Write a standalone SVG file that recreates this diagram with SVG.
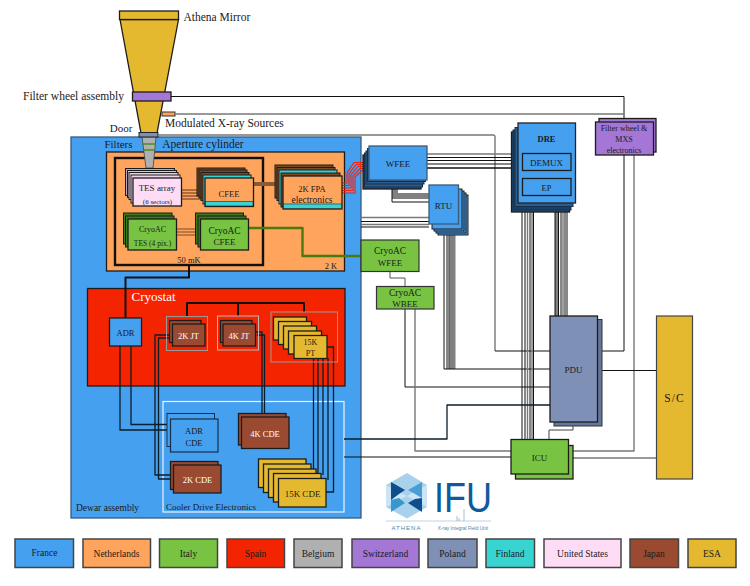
<svg xmlns="http://www.w3.org/2000/svg" width="750" height="586" viewBox="0 0 750 586">
<style>
text{font-family:"Liberation Serif","DejaVu Serif",serif;fill:#1a1a1a;text-anchor:middle}
.s{stroke:#1c1c1c;stroke-width:1.300}
.t{stroke:#1c1c1c;stroke-width:1}
.bl{fill:#46a0f0}.or{fill:#fea45c}.gr{fill:#78c442}.re{fill:#f52400}.gy{fill:#b0b0b0}.pu{fill:#a476d6}.po{fill:#7f90b6}.cy{fill:#38d4d2}.pk{fill:#fedcf6}.br{fill:#9a4a30}.ye{fill:#e5b92f}
.w{fill:none;stroke:#111;stroke-width:1;stroke-linejoin:round}
.c{fill:none;stroke:#0c1c28;stroke-width:1.300;stroke-linejoin:round}
.g{fill:none;stroke:#777;stroke-width:1.400;stroke-linejoin:round}
.k{fill:none;stroke:#111;stroke-width:2;stroke-linejoin:round}
.wt{fill:#fff}
.l{text-anchor:start}
.sans{font-family:"Liberation Sans",sans-serif}
</style>

<g id="mirror">
<path class="ye s" d="M120 19.500H178.500L157 133H141Z"/>
<rect class="ye s" x="119.500" y="11" width="59" height="8.500"/>
<text class="l" x="183.500" y="21" font-size="11.500">Athena Mirror</text>
</g>

<g id="dewar">
<rect class="bl" x="71" y="137" width="290" height="381" stroke="#3a5a78" stroke-width="1.300"/>
<text x="118.500" y="147.500" font-size="11">Filters</text>
<text x="203" y="147.500" font-size="11.500">Aperture cylinder</text>
<text x="107.500" y="511" font-size="9.500">Dewar assembly</text>
</g>

<g id="box-2k">
<rect class="or s" x="106.500" y="152" width="238" height="119"/>
<text x="331" y="269" font-size="8.500">2 K</text>
</g>
<g id="box-50mk">
<rect x="115" y="158" width="148" height="107" fill="none" stroke="#111" stroke-width="2.400"/>
<text x="189" y="263" font-size="8.500">50 mK</text>
</g>

<g id="cryostat">
<rect class="re s" x="87.500" y="288.500" width="257.500" height="97.500"/>
<text x="153.500" y="301" font-size="13" style="fill:#fff">Cryostat</text>
</g>
<g id="cooler-electronics">
<rect fill="none" stroke="#eef4fb" stroke-width="1.200" x="163" y="401.500" width="181" height="110.500"/>
<text x="211" y="510" font-size="9">Cooler Drive Electronics</text>
</g>

<g id="aperture">
<path class="gy" stroke="#444" stroke-width=".8" d="M142 137H156L153 168H146Z"/>
<path d="M142.500 144H155.500M144 150H154.500" stroke="#4f8a1e" stroke-width="1.300"/>
<rect fill="#7f90b6" stroke="#222" x="139" y="132.500" width="19" height="4.500"/>
<text x="121" y="132" font-size="11">Door</text>
</g>

<g id="filter-wheel">
<rect class="pu s" x="132.500" y="92" width="38.500" height="9"/>
<text x="73.500" y="100" font-size="11.500">Filter wheel assembly</text>
</g>
<g id="mxs">
<rect class="or" stroke="#333" x="162" y="112" width="13" height="4"/>
<text class="l" x="165" y="127" font-size="11.500">Modulated X-ray Sources</text>
</g>

<g id="connectors">
<path class="w" d="M171 96.500H624V122M624 155V351H597.500"/>
<path class="g" d="M175 114H624"/>
<path class="g" d="M158 135H493Q495 135 495 137V351"/>
<path class="w" d="M495 351H550"/>
<path class="g" d="M634 155V451H569"/>
<path class="g" d="M427 154H514"/><path class="w" d="M427 157.500H514M427 160.500H514M427 164H514"/><path class="k" style="stroke-width:1.300" d="M427 168H518"/>
<path d="M395 189V196H429" fill="none" stroke="#808080" stroke-width="6"/><path class="w" d="M392 189V202H429"/>
<path class="g" d="M361 217.500H429"/><path class="w" d="M361 221.500H429"/><path class="g" d="M361 224.500H429"/><path class="w" d="M361 227H429"/>
<path d="M452.500 235V369" stroke="#808080" stroke-width="6" fill="none"/>
<path class="w" d="M444 225V369H550M447 225V369M449 225V369"/>
<path class="w" d="M522 210V439M525 210V439"/><path class="g" d="M527.500 210V439"/><path class="w" d="M530 205V439"/><path class="g" d="M532 210V439"/><path class="w" d="M533.500 205V439"/>
<path d="M556.500 212V316" stroke="#808080" stroke-width="3" fill="none"/><path class="w" d="M555 212V316M558.500 212V316M561 212V316"/><path class="g" d="M563 212V316"/><path class="w" d="M565 205V316M567 212V316"/>
<path class="w" style="stroke:#555" d="M390 271V278H405V286"/>
<path class="w" d="M405 309V387H550"/>
<path class="g" d="M415 309V451H511"/>
<path class="c" d="M344 439H447V405H550"/>
<path class="w" d="M344 457H511"/>
<path class="w" d="M597.500 370.500H656.500"/>
<path class="g" d="M573 458H656.500"/>
<path class="w" style="stroke:#444" d="M573 422V430H549V439"/>
<path d="M248 228H302.500V256H362" fill="none" stroke="#4a7a10" stroke-width="2.400" stroke-linejoin="round"/>
<path class="k" d="M189 265V277.500H125.500V318"/>
<path class="k" d="M187 316V303H304V312M238 303V316"/>
<path class="c" d="M120 346V430H170.500M131 346V424.500H170.500"/>
<path class="c" d="M169 335H155V475H170.500M172 338H158.500V479H173.500"/>
<path class="c" d="M255 332H262V414M257 335H264.500V417"/>
<path class="c" d="M313.500 358V475M318 358V480M323 358V475M328 358V480M327 347H333.500V492H326"/>
<path d="M178 190H205M178 193H205M178 196H205M178 199H205" stroke="#5d3518" stroke-width="1.100"/>
<path d="M253 183H276M253 185H276" stroke="#8a5a35" stroke-width="1.800"/>
<path d="M176 229H200M176 232H200M176 235H200" stroke="#7a4a25" stroke-width="1.100"/>
<path fill="none" stroke="#f2200c" stroke-width="1.100" d="M342 183H347V173L354 162.500H368M342 185.500H349V174L356 164.500H368M342 188H351V175L358 166.500H368M342 190.500H353V176L360 168.500H368M342 193H355V177L362 170.500H368"/>
</g>

<g id="tes">
<rect fill="#b5a8c0" class="t" x="125.500" y="168.500" width="49" height="27"/>
<rect fill="#dcc8dc" class="t" x="127.500" y="170.500" width="49" height="27"/>
<rect fill="#e8d0e4" class="t" x="129" y="172.500" width="49" height="27"/>
<rect fill="#f0d4ec" class="t" x="131" y="175" width="49" height="28"/>
<rect class="pk s" x="133" y="178" width="48.500" height="28"/>
<text x="157" y="191" font-size="9">TES array</text>
<text x="157.500" y="204" font-size="7">(6 sectors)</text>
</g>
<g id="cfee">
<rect fill="#7a4a25" class="t" x="197" y="168" width="48" height="28"/>
<rect fill="#7a4a25" class="t" x="199" y="170" width="48" height="28"/>
<rect fill="#7a4a25" class="t" x="201" y="172.500" width="48" height="28"/>
<rect class="cy t" x="203" y="175" width="48" height="29"/>
<rect class="or s" x="205" y="178" width="48.500" height="28.500"/>
<rect class="cy" stroke="#222" stroke-width=".6" x="205.500" y="201.500" width="47.500" height="4.500"/>
<text x="229" y="197" font-size="8.500">CFEE</text>
</g>
<g id="fpa">
<rect fill="#7a4a25" class="t" x="275" y="165" width="58" height="33"/>
<rect fill="#7a4a25" class="t" x="277" y="167.500" width="58" height="33"/>
<rect class="cy t" x="279" y="170" width="58" height="34"/>
<rect fill="#7a4a25" class="t" x="281" y="173" width="59" height="34"/>
<rect class="or s" x="283" y="176" width="59" height="33"/>
<rect class="cy" stroke="#222" stroke-width=".6" x="283.500" y="204" width="58" height="4.500"/>
<text x="312" y="192" font-size="8.500">2K FPA</text>
<text x="312" y="203" font-size="9.500">electronics</text>
</g>
<g id="cryoac-tes">
<rect fill="#3c7a1c" class="t" x="123.500" y="213" width="48.500" height="31"/>
<rect fill="#3c7a1c" class="t" x="125.500" y="216" width="48.500" height="31"/>
<rect class="gr s" x="128" y="219" width="48.500" height="31"/>
<text x="152.500" y="232" font-size="8">CryoAC</text>
<text x="152.500" y="246" font-size="7.500">TES (4 pix.)</text>
</g>
<g id="cryoac-cfee">
<rect fill="#3c7a1c" class="t" x="195.500" y="213" width="48" height="31"/>
<rect fill="#3c7a1c" class="t" x="198" y="216" width="48" height="31"/>
<rect class="gr s" x="200.500" y="219" width="48" height="31"/>
<text x="224.500" y="234" font-size="9.500">CryoAC</text>
<text x="224.500" y="245" font-size="9">CFEE</text>
</g>

<g id="wfee">
<rect fill="#26507e" class="s" x="363" y="155" width="58" height="34"/>
<rect fill="#2a5c90" stroke="#17304a" x="364.500" y="153" width="58" height="34"/>
<rect fill="#2a5c90" stroke="#17304a" x="366" y="151" width="58" height="33"/>
<rect fill="#2a5c90" stroke="#17304a" x="367.500" y="148.500" width="58" height="33"/>
<rect class="bl" stroke="#3c5a78" stroke-width="1.300" x="369" y="146" width="58" height="34"/>
<text x="398" y="167" font-size="9">WFEE</text>
</g>
<g id="rtu">
<rect class="bl t" x="438" y="195" width="30" height="40"/>
<rect class="bl t" x="436" y="193" width="30" height="40"/>
<rect class="bl t" x="434" y="191" width="30" height="40"/>
<rect class="bl t" x="432" y="189" width="30" height="40"/>
<rect class="bl" stroke="#3c5a78" stroke-width="1.300" x="429" y="185" width="29.500" height="39"/>
<text x="443.500" y="209" font-size="9">RTU</text>
</g>
<g id="dre">
<rect fill="#26507e" class="s" x="511.500" y="132" width="58" height="80"/>
<rect fill="#1c3f64" stroke="#17304a" x="513" y="130" width="58" height="80"/>
<rect fill="#2a5c90" stroke="#17304a" x="515" y="127.500" width="58" height="79"/>
<rect class="bl" stroke="#222" stroke-width="1.300" x="518" y="123" width="57.500" height="80"/>
<text x="546.500" y="142" font-size="8.500" font-weight="bold">DRE</text>
<rect class="bl s" x="522.500" y="153.500" width="48.500" height="17"/>
<text x="546.500" y="166" font-size="9">DEMUX</text>
<rect class="bl s" x="522.500" y="178.500" width="48.500" height="17"/>
<text x="546.500" y="191" font-size="8.500">EP</text>
</g>
<g id="fw-electronics">
<rect class="pu s" x="599" y="118.500" width="57" height="33.500"/>
<rect class="pu s" x="595.500" y="122" width="58" height="33"/>
<text x="624" y="131" font-size="8">Filter wheel &amp;</text>
<text x="624" y="142" font-size="8">MXS</text>
<text x="624" y="153" font-size="8">electronics</text>
</g>
<g id="cryoac-wfee">
<rect class="gr" stroke="#333" stroke-width="1.200" x="361" y="240" width="58" height="31.500"/>
<text x="390" y="254" font-size="9.500">CryoAC</text>
<text x="390" y="266" font-size="9">WFEE</text>
</g>
<g id="cryoac-wbee">
<rect class="gr" stroke="#333" stroke-width="1.200" x="376.500" y="286.500" width="57.500" height="22.500"/>
<text x="405" y="296" font-size="9.500">CryoAC</text>
<text x="405" y="307" font-size="9">WBEE</text>
</g>
<g id="pdu">
<rect fill="#63779d" stroke="#333" x="554" y="319.500" width="48" height="106.500"/>
<rect class="po s" x="550" y="316" width="47.500" height="106"/>
<text x="573.500" y="373" font-size="9">PDU</text>
</g>
<g id="sc">
<rect class="ye" stroke="#444" stroke-width="1.200" x="656.500" y="316" width="36" height="163"/>
<text x="674.500" y="402" font-size="11.500" letter-spacing="1">S/C</text>
</g>
<g id="icu">
<rect class="gr s" x="515.500" y="445.500" width="57.500" height="33.500"/>
<rect class="gr s" x="511" y="439.500" width="57.500" height="34.500"/>
<text x="539.500" y="461" font-size="9">ICU</text>
</g>

<g id="adr">
<rect class="bl s" x="109.500" y="318" width="32" height="28"/>
<text x="125.500" y="336" font-size="8.500">ADR</text>
</g>
<g id="jt2">
<rect fill="none" stroke="#999" x="166.500" y="316.500" width="41" height="34"/>
<rect class="br s" x="169.500" y="320.500" width="31.500" height="22"/>
<rect class="br s" x="172.500" y="324" width="32.500" height="22"/>
<text x="188.500" y="339" font-size="8.500" style="fill:#fff">2K JT</text>
</g>
<g id="jt4">
<rect fill="none" stroke="#bbb" x="217.500" y="316" width="41" height="34"/>
<rect class="br s" x="220.500" y="320.500" width="31.500" height="22"/>
<rect class="br s" x="223" y="324" width="32.500" height="22"/>
<text x="239" y="339" font-size="8.500" style="fill:#fff">4K JT</text>
</g>
<g id="pt15">
<rect fill="none" stroke="#999" x="271" y="312" width="66.500" height="50"/>
<rect class="ye s" x="273.500" y="317" width="33" height="23"/>
<rect class="ye s" x="278.500" y="321.500" width="33" height="23"/>
<rect class="ye s" x="283.500" y="326" width="33" height="23"/>
<rect class="ye s" x="288.500" y="331" width="33" height="23"/>
<rect class="ye s" x="294" y="335.500" width="33" height="23"/>
<text x="310.500" y="345" font-size="8">15K</text>
<text x="310.500" y="356" font-size="8">PT</text>
</g>

<g id="adr-cde">
<rect class="bl" stroke="#17304a" x="167" y="413.500" width="47.500" height="33"/>
<rect class="bl" stroke="#17304a" stroke-width="1.200" x="170.500" y="419" width="47.500" height="33"/>
<text x="194" y="434" font-size="8.500">ADR</text>
<text x="194" y="446" font-size="8.500">CDE</text>
</g>
<g id="cde4">
<rect class="br s" x="238.500" y="413.500" width="47.500" height="31.500"/>
<rect class="br s" x="241.500" y="417" width="47.500" height="31.500"/>
<text x="265" y="437" font-size="8.500" style="fill:#fff">4K CDE</text>
</g>
<g id="cde2">
<rect class="br s" x="170.500" y="461.500" width="47.500" height="28"/>
<rect class="br s" x="173.500" y="465" width="47.500" height="28"/>
<text x="197.500" y="483" font-size="8.500" style="fill:#fff">2K CDE</text>
</g>
<g id="cde15">
<rect class="ye s" x="258.500" y="459" width="47.500" height="28.500"/>
<rect class="ye s" x="263.500" y="464" width="47.500" height="28.500"/>
<rect class="ye s" x="268.500" y="469" width="47.500" height="28.500"/>
<rect class="ye s" x="273.500" y="473.500" width="47.500" height="28.500"/>
<rect class="ye s" x="278.500" y="478.500" width="47.500" height="28.500"/>
<text x="302.500" y="497" font-size="9">15K CDE</text>
</g>

<g id="logo">
<path d="M407 473L427 485V507L407 518.500L386 507V485Z" fill="#a8d2ec"/>
<path d="M407 496L427 485V507Z M407 496L386 485V507Z" fill="#cbe5f5"/>
<path d="M391 482L405 490L399 494L391 500Z" fill="#0f4d8c"/>
<path d="M422 498V512L408 503L415 499Z" fill="#0f4d8c"/>
<path d="M422 482V498L415 494L408 490Z" fill="#4a9ed6"/>
<path d="M391 500V512L405 503L399 498Z" fill="#3a96cf"/>
<text class="sans l" x="434" y="512" font-size="42" textLength="58" lengthAdjust="spacingAndGlyphs" style="fill:#0f5a9c">IFU</text>
<path d="M386 521H491" stroke="#9fc3de" stroke-width=".7"/>
<path d="M457 521V516M459 521V518M464 521V509" stroke="#7aa8cc" stroke-width=".7"/>
<text class="sans" x="406.500" y="530" font-size="6" letter-spacing="1" style="fill:#4f7fa8">ATHENA</text>
<text class="sans" x="463" y="530" font-size="4.800" style="fill:#4f7fa8">X-ray Integral Field Unit</text>
</g>

<g id="legend" stroke="#444" stroke-width="1.500">
<rect class="bl" x="15" y="539" width="58.500" height="28.500"/>
<rect class="or" x="83" y="539" width="67.500" height="28.500"/>
<rect class="gr" x="159.500" y="539" width="58" height="28.500"/>
<rect class="re" x="227" y="539" width="57.500" height="28.500"/>
<rect class="gy" x="294" y="539" width="48" height="28.500"/>
<rect class="pu" x="352" y="539" width="67" height="28.500"/>
<rect class="po" x="428" y="539" width="49" height="28.500"/>
<rect class="cy" x="486" y="539" width="48.500" height="28.500"/>
<rect class="pk" x="544" y="539" width="77" height="28.500"/>
<rect class="br" x="630" y="539" width="48.500" height="28.500"/>
<rect class="ye" x="688" y="539" width="48" height="28.500"/>
<g stroke="none" font-size="9.500">
<text x="44.500" y="556">France</text>
<text x="116.500" y="557">Netherlands</text>
<text x="188.500" y="557">Italy</text>
<text x="255.500" y="557">Spain</text>
<text x="318" y="557">Belgium</text>
<text x="385.500" y="557">Switzerland</text>
<text x="452.500" y="557">Poland</text>
<text x="510" y="557">Finland</text>
<text x="582.500" y="557">United States</text>
<text x="654" y="557">Japan</text>
<text x="712" y="557">ESA</text>
</g>
</g>
</svg>
